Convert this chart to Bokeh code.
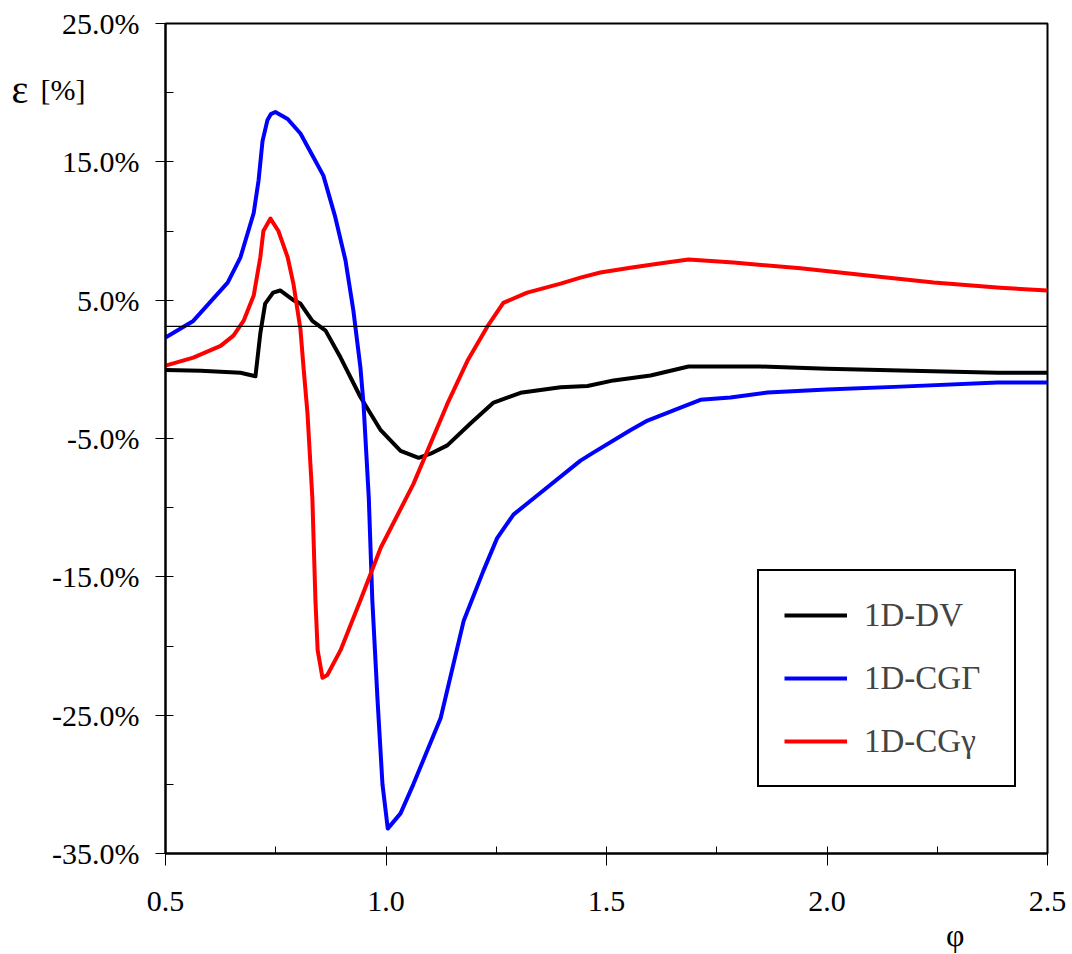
from bokeh.plotting import figure
from bokeh.models import (Range1d, FixedTicker, PrintfTickFormatter, Span, Label,
                          Legend, LegendItem)
from bokeh.embed import file_html
from bokeh.resources import INLINE

# ---- data (phi, epsilon in %) ----
x_dv = [0.50, 0.58, 0.67, 0.704, 0.715, 0.726, 0.744, 0.76, 0.79, 0.806, 0.82, 0.833,
        0.863, 0.897, 0.942, 0.988, 1.033, 1.074, 1.101, 1.139, 1.192, 1.244, 1.305,
        1.396, 1.457, 1.516, 1.60, 1.686, 1.849, 2.0, 2.167, 2.387, 2.5]
v_dv = [-0.05, -0.1, -0.25, -0.5, 2.6, 4.75, 5.55, 5.7, 5.0, 4.75, 4.1, 3.5,
        2.8, 0.85, -2.0, -4.4, -5.9, -6.4, -6.1, -5.5, -3.9, -2.4, -1.7,
        -1.3, -1.2, -0.8, -0.45, 0.2, 0.2, 0.05, -0.09, -0.24, -0.24]

x_cgG = [0.5, 0.563, 0.641, 0.67, 0.70, 0.711, 0.72, 0.731, 0.739, 0.749, 0.777, 0.806,
         0.836, 0.858, 0.885, 0.908, 0.926, 0.942, 0.949, 0.961, 0.969, 0.981, 0.992,
         1.004, 1.033, 1.062, 1.124, 1.176, 1.221, 1.252, 1.289, 1.328, 1.441, 1.471,
         1.554, 1.593, 1.668, 1.713, 1.781, 1.865, 2.0, 2.167, 2.387, 2.5]
v_cgG = [2.3, 3.5, 6.27, 8.1, 11.3, 13.65, 16.5, 18.0, 18.45, 18.6, 18.1, 17.05,
         15.3, 14.0, 11.0, 7.9, 4.25, 0.13, -2.5, -9.3, -16.7, -24.0, -30.0,
         -33.2, -32.1, -30.0, -25.2, -18.2, -14.55, -12.2, -10.5, -9.5, -6.6, -6.0,
         -4.4, -3.7, -2.77, -2.2, -2.04, -1.68, -1.45, -1.25, -0.96, -0.96]

x_cgg = [0.5, 0.563, 0.625, 0.654, 0.677, 0.70, 0.715, 0.722, 0.738, 0.756, 0.777, 0.79,
         0.806, 0.813, 0.822, 0.833, 0.84, 0.845, 0.856, 0.867, 0.897, 0.942, 0.988,
         1.062, 1.139, 1.185, 1.23, 1.266, 1.32, 1.396, 1.441, 1.486, 1.554, 1.62,
         1.686, 1.788, 1.94, 2.092, 2.242, 2.393, 2.5]
v_cgg = [0.27, 0.85, 1.7, 2.44, 3.5, 5.33, 8.1, 10.0, 10.9, 10.0, 8.1, 6.2,
         2.9, 0.13, -3.2, -9.3, -16.7, -20.3, -22.3, -22.1, -20.3, -16.7, -12.9,
         -8.3, -2.5, 0.63, 3.1, 4.8, 5.55, 6.2, 6.63, 7.0, 7.35, 7.65,
         7.94, 7.72, 7.3, 6.78, 6.27, 5.9, 5.7]

series_names = ["1D-DV", "1D-CG\u0393", "1D-CG\u03b3"]
ref_level = 3.1

x_major = [0.5, 1.0, 1.5, 2.0, 2.5]
x_minor = [0.75, 1.25, 1.75, 2.25]
y_major = [25, 15, 5, -5, -15, -25, -35]
y_minor = [20, 10, 0, -10, -20, -30]

FONT = "Liberation Serif"

p = figure(width=1069, height=954, x_range=Range1d(0.5, 2.5), y_range=Range1d(-35, 25),
           output_backend="svg", toolbar_location=None,
           min_border_left=165, min_border_right=22, min_border_top=23, min_border_bottom=101)
p.xgrid.visible = False
p.ygrid.visible = False
p.background_fill_color = "white"
p.border_fill_color = "white"
p.outline_line_color = "black"
p.outline_line_width = 2
p.outline_line_alpha = 1

for ax, maj, mino, fmt in ((p.xaxis[0], x_major, x_minor, "%.1f"),
                           (p.yaxis[0], y_major, y_minor, "%.1f%%")):
    ax.ticker = FixedTicker(ticks=maj, minor_ticks=mino)
    ax.formatter = PrintfTickFormatter(format=fmt)
    ax.axis_line_color = "black"
    ax.axis_line_width = 2
    ax.major_tick_line_color = "black"
    ax.minor_tick_line_color = "black"
    ax.major_tick_line_width = 1
    ax.minor_tick_line_width = 1
    ax.major_label_text_font = FONT
    ax.major_label_text_font_size = "30px"
    ax.major_label_text_color = "black"

p.xaxis.major_tick_in = 7
p.xaxis.major_tick_out = 12
p.xaxis.minor_tick_in = 7
p.xaxis.minor_tick_out = 0
p.xaxis.major_label_standoff = 26
p.yaxis.major_tick_in = 8
p.yaxis.major_tick_out = 10
p.yaxis.minor_tick_in = 8
p.yaxis.minor_tick_out = 0
p.yaxis.major_label_standoff = 16

p.add_layout(Span(location=ref_level, dimension="width", line_color="black", line_width=1.3))

r1 = p.line(x_dv, v_dv, line_color="black", line_width=4, line_join="round")
r2 = p.line(x_cgG, v_cgG, line_color="#0000FF", line_width=4, line_join="round")
r3 = p.line(x_cgg, v_cgg, line_color="#FF0000", line_width=4, line_join="round")

legend = Legend(items=[LegendItem(label=series_names[0], renderers=[r1]),
                       LegendItem(label=series_names[1], renderers=[r2]),
                       LegendItem(label=series_names[2], renderers=[r3])],
                location=(592, 66), margin=0, padding=25, spacing=25,
                glyph_width=63, glyph_height=38, label_height=38, label_width=125,
                label_standoff=17, label_text_font=FONT, label_text_font_size="33px",
                border_line_color="black", border_line_width=2, border_line_alpha=1,
                background_fill_color="white", background_fill_alpha=1)
p.add_layout(legend)

# side-panel labels (placed in data coordinates, outside the frame)
p.add_layout(Label(x=0.1508, y=20.25, text="\u03b5", text_font=FONT, text_font_size="40px",
                   text_baseline="alphabetic", text_align="left", text_color="black"), "right")
p.add_layout(Label(x=0.2166, y=20.25, text="[%]", text_font=FONT, text_font_size="30px",
                   text_baseline="alphabetic", text_align="left", text_color="black"), "left")
p.add_layout(Label(x=2.291, y=-40.87, text="\u03c6", text_font=FONT, text_font_size="32px",
                   text_baseline="middle", text_align="center", text_color="black"), "below")

open("out.html", "w").write(file_html(p, INLINE))
